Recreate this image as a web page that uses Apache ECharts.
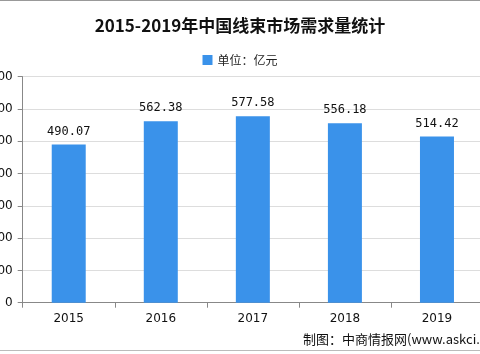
<!DOCTYPE html>
<html><head><meta charset="utf-8">
<script src="https://cdn.jsdelivr.net/npm/echarts@6/dist/echarts.min.js"></script>
<style>html,body{margin:0;padding:0;background:#fff}#c{width:480px;height:354px}</style>
</head><body><div id="c"></div>
<script>
const categories = ['2015','2016','2017','2018','2019'];
const values = [490.07, 562.38, 577.58, 556.18, 514.42];
const yTicks = [0,100,200,300,400,500,600,700];
const titleText = '2015-2019年中国线束市场需求量统计';
const legendName = '单位：亿元';
const sourceText = '制图：中商情报网(www.askci.com)';

const chart = echarts.init(document.getElementById('c'), null, {renderer:'canvas'});
chart.setOption({
  backgroundColor:'#fff',
  animation:false,
  title:{text:titleText,left:'center',top:12,textStyle:{fontFamily:'"Noto Sans CJK SC",serif',fontWeight:'bold',fontSize:17,color:'#111'}},
  legend:{top:49,left:'center',itemWidth:10,itemHeight:10,itemGap:4,icon:'rect',
    textStyle:{fontFamily:'"Noto Sans CJK SC"',fontSize:12,color:'#222'},data:[legendName]},
  grid:{left:22.7,right:-3,top:76.7,bottom:51.3,containLabel:false,outerBoundsMode:'none'},
  xAxis:{type:'category',data:categories,
    axisLine:{lineStyle:{color:'#888'}},
    axisTick:{show:true,alignWithLabel:false,length:5,lineStyle:{color:'#888'}},
    axisLabel:{color:'#111',fontSize:12,margin:10,fontFamily:'"DejaVu Sans"'}},
  yAxis:{type:'value',min:yTicks[0],max:yTicks[yTicks.length-1],interval:100,
    axisLine:{show:true,lineStyle:{color:'#888'}},
    axisTick:{show:true,length:5,lineStyle:{color:'#888'}},
    axisLabel:{color:'#111',fontSize:12,margin:10,fontFamily:'"DejaVu Sans"'},
    splitLine:{lineStyle:{color:'#ddd'}}},
  series:[{name:legendName,type:'bar',data:values,barWidth:34,
    itemStyle:{color:'#3a92ea'},
    label:{show:true,position:'top',distance:7,color:'#111',fontSize:12,fontFamily:'"DejaVu Sans Mono"',
      formatter:p=>p.value.toFixed(2)}}],
  graphic:[{type:'text',left:303,top:333,style:{text:sourceText,fontSize:13,fill:'#111',fontFamily:'"Noto Sans CJK SC"'}},
    {type:'rect',shape:{x:0,y:0,width:480,height:1},style:{fill:'#999'}},
    {type:'rect',shape:{x:0,y:350,width:480,height:1},style:{fill:'#bbb'}}]
});
</script></body></html>
